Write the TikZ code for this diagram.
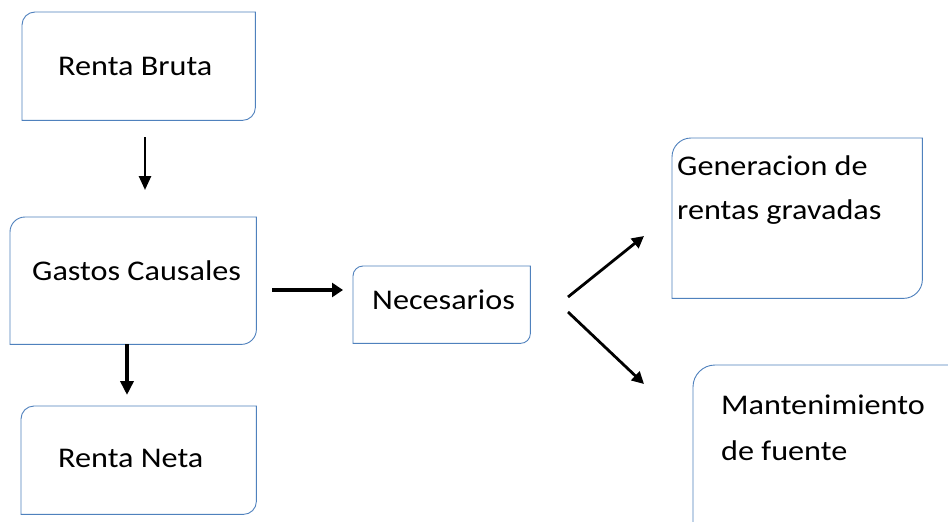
\documentclass[tikz,border=0pt]{standalone}
\usepackage{fontspec}
\setmainfont{Carlito}[FakeStretch=1.13]
\usetikzlibrary{arrows.meta}
\definecolor{boxblue}{HTML}{4F81BD}
\tikzset{
  boxarea/.style={draw=none,inner sep=0pt,anchor=north west},
  boxline/.style={draw=boxblue,line width=0.9pt},
  lbl/.style={anchor=base west,inner sep=0pt,font=\fontsize{28.5}{34}\selectfont},
  arr/.style={draw=black},
}
\newcommand{\diagbox}[2]{%
  \draw[boxline] ([yshift=-#2]#1.north west) arc[start angle=180,end angle=90,radius=#2]
    -- (#1.north east) -- ([yshift=#2]#1.south east)
    arc[start angle=0,end angle=-90,radius=#2] -- (#1.south west) -- cycle;}
\begin{document}
\begin{tikzpicture}[x=1pt,y=-1pt]
\clip (0,0) rectangle (948,522);
\fill[white] (0,0) rectangle (948,522);
% boxes
\node[boxarea,minimum width=233pt,minimum height=108pt] (rb) at (22,12) {};
\node[boxarea,minimum width=246pt,minimum height=127pt] (gc) at (10,217) {};
\node[boxarea,minimum width=235pt,minimum height=108pt] (rn) at (21,406) {};
\node[boxarea,minimum width=177pt,minimum height=77pt] (ne) at (353,266) {};
\node[boxarea,minimum width=250pt,minimum height=160pt] (ge) at (672,138) {};
\node[boxarea,minimum width=270pt,minimum height=180pt] (ma) at (693,365) {};
\diagbox{rb}{13pt}
\diagbox{gc}{15pt}
\diagbox{rn}{13pt}
\diagbox{ne}{10pt}
\diagbox{ge}{19pt}
\diagbox{ma}{22pt}
% labels
\node[lbl] (trb) at (58,75) {Renta Bruta};
\node[lbl] (tgc) at (32,280) {Gastos Causales};
\node[lbl] (trn) at (58,467) {Renta Neta};
\node[lbl] (tne) at (372,309) {Necesarios};
\node[lbl] (tge1) at (677,175) {Generacion de};
\node[lbl] (tge2) at (677,219) {rentas gravadas};
\node[lbl] (tma1) at (721,414) {Mantenimiento};
\node[lbl] (tma2) at (721,460) {de fuente};
% connector end points
\coordinate (a1s) at (145,137); \coordinate (a1e) at (145,190);
\coordinate (a2s) at (127,344); \coordinate (a2e) at (127,395);
\coordinate (a3s) at (272,290); \coordinate (a3e) at (343,290);
\coordinate (a4s) at (568,297); \coordinate (a4e) at (644,236);
\coordinate (a5s) at (568,312); \coordinate (a5e) at (644,384);
% connectors
\draw[arr,line width=2.6pt,-{Triangle[length=14pt,width=12pt]}] (a1s) -- (a1e);
\draw[arr,line width=3.6pt,-{Triangle[length=14pt,width=13pt]}] (a2s) -- (a2e);
\draw[arr,line width=4.5pt,-{Triangle[length=11pt,width=14pt]}] (a3s) -- (a3e);
\draw[arr,line width=2.8pt,-{Triangle[length=12pt,width=12pt]}] (a4s) -- (a4e);
\draw[arr,line width=2.8pt,-{Triangle[length=12pt,width=12pt]}] (a5s) -- (a5e);
\end{tikzpicture}
\end{document}
